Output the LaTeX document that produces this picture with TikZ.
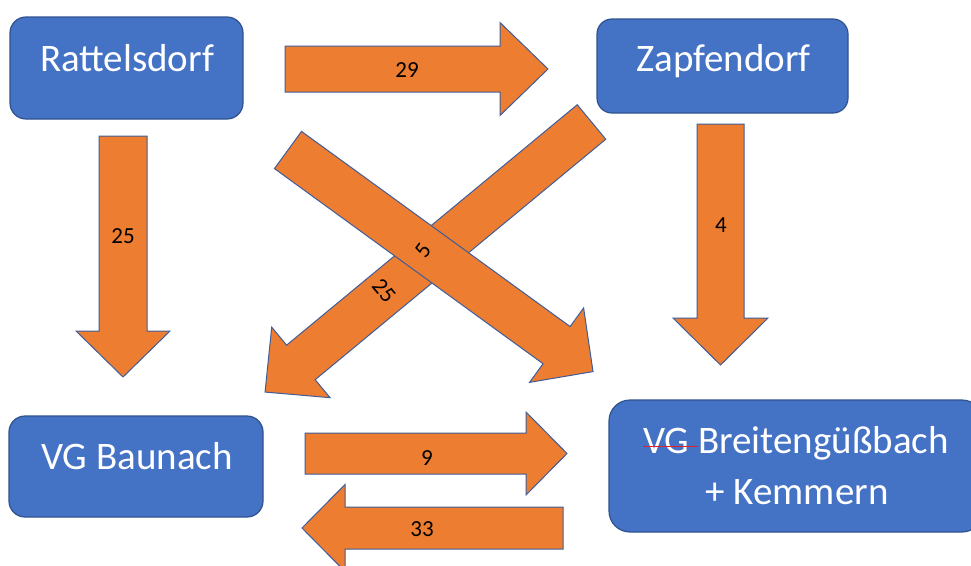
\documentclass[tikz,border=0pt]{standalone}
\usepackage{fontspec}
\setmainfont{Carlito}
\definecolor{boxblue}{HTML}{4472C4}
\definecolor{boxline}{HTML}{2F528F}
\definecolor{arrorange}{HTML}{ED7D31}
\definecolor{arrline}{HTML}{3F5D9A}
\definecolor{strikered}{HTML}{E0202E}
\newlength\stkw
\newcommand\redstrike[1]{\settowidth\stkw{#1}#1\llap{\textcolor{strikered}{\rule[0.15em]{\stkw}{1.4pt}}}}
\tikzset{
  townbox/.style={draw=boxline, line width=1.2pt, fill=boxblue, rounded corners=#1, inner sep=0pt},
  townbox/.default=16pt,
  boxtext/.style={text=white, inner sep=0pt, font=\fontsize{39}{47}\selectfont},
  num/.style={text=black, inner sep=0pt, font=\fontsize{23}{27}\selectfont},
  arrowfill/.style={draw=arrline, line width=1pt, fill=arrorange, line join=miter},
  pics/blockarr/.style args={#1/#2/#3/#4}{code={
    \draw[arrowfill] (0,-#2) -- (#1-#4,-#2) -- (#1-#4,-#3) -- (#1,0)
      -- (#1-#4,#3) -- (#1-#4,#2) -- (0,#2) -- cycle;
  }}
}
\begin{document}
\begin{tikzpicture}[x=1pt,y=-1pt]
\useasboundingbox (0,0) rectangle (971,565);
\clip (0,0) rectangle (971,565);
% boxes
\node[townbox, minimum width=233pt, minimum height=102pt] (rat) at (126.5,68) {};
\node[boxtext, anchor=base] (ratT) at (127,71) {Rattelsdorf};
\node[townbox=15pt, minimum width=251pt, minimum height=94pt] (zap) at (722.5,66) {};
\node[boxtext, anchor=base] (zapT) at (723.5,71) {Zapfendorf};
\node[townbox, minimum width=254pt, minimum height=101pt] (bau) at (136,466.5) {};
\node[boxtext, anchor=base] (bauT) at (137,469) {VG Baunach};
\node[townbox=21pt, minimum width=374pt, minimum height=132pt] (bre) at (796,466) {};
\node[boxtext, anchor=base] (breT) at (796,453) {\redstrike{VG }Breitengüßbach};
\node[boxtext, anchor=base] (breK) at (797,504) {+ Kemmern};
% arrow anchor points
\coordinate (a29) at (285,69);
\coordinate (a25l) at (123,136);
\coordinate (a4) at (720.5,124);
\coordinate (a9) at (305,453.5);
\coordinate (a33) at (563,528);
\coordinate (a5) at (288,150);
\coordinate (a25d) at (591.5,122);
% block arrows
\pic at (a29) {blockarr=263/23/46.5/48};
\pic[rotate=-90] at (a25l) {blockarr=241/24/47/46};
\pic[rotate=-90] at (a4) {blockarr=241/23.5/47.5/47};
\pic at (a9) {blockarr=262/20.5/41.5/41};
\pic[rotate=180] at (a33) {blockarr=261/21/43.5/43};
\pic[rotate=-140.4] at (a25d) {blockarr=423.7/22.4/45.75/46.5};
\pic[rotate=-36] at (a5) {blockarr=377/23/46/45};
% labels
\node[num] (l29) at (407,70) {29};
\node[num] (l25l) at (123,236) {25};
\node[num] (l4) at (721,225) {4};
\node[num] (l9) at (427,458) {9};
\node[num] (l33) at (422,529) {33};
\node[num, rotate=-50] (l25d) at (384,291) {25};
\node[num, rotate=54] (l5) at (423,250) {5};
\end{tikzpicture}
\end{document}
